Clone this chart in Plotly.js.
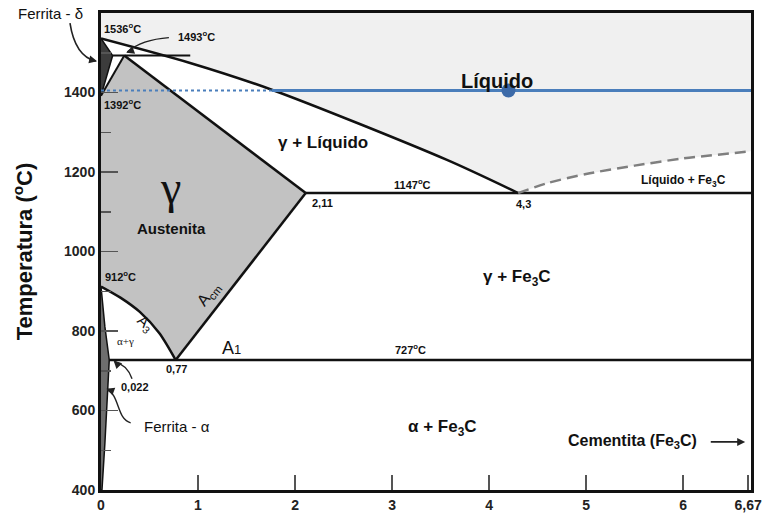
<!DOCTYPE html>
<html>
<head>
<meta charset="utf-8">
<script src="https://cdn.plot.ly/plotly-3.0.1.min.js"></script>
<style>html,body{margin:0;padding:0;background:#fff}#chart{width:771px;height:517px}</style>
</head>
<body>
<div id="chart"></div>
<script>
// ---- data (x = % C, y = °C) ----
const liquidusX = [0, 0.91, 1.76, 3.56, 4.3];
const liquidusY = [1536, 1475, 1407, 1231, 1147];
const fe3cLiqX = [4.3, 4.6, 5.0, 5.5, 6.0, 6.7];
const fe3cLiqY = [1147, 1172, 1195, 1216, 1234, 1252];
const a3X = [0, 0.2, 0.4, 0.6, 0.77];
const a3Y = [912, 884, 848, 795, 727];
const deltaX = [0, 0.12, 0];
const deltaY = [1536, 1493, 1392];
const alphaX = [0, 0.04, 0.085, 0.07, 0.04, 0.01, 0];
const alphaY = [912, 811, 727, 643, 517, 400, 400];
const gammaTopX = [0, 0.24, 2.11, 0.77];
const gammaTopY = [1392, 1493, 1147, 727];
const peritecticX = [0.12, 0.92];
const peritecticY = [1493, 1493];
const solidusX = [0.24, 2.11];
const solidusY = [1493, 1147];
const acmX = [2.11, 0.77];
const acmY = [1147, 727];
const eutecticX = [2.11, 6.7];
const eutecticY = [1147, 1147];
const eutectoidX = [0.085, 6.7];
const eutectoidY = [727, 727];
const gammaLeftX = [0, 0.24];
const gammaLeftY = [1392, 1493];
const blueDotX = [0, 1.76];
const blueDotY = [1405, 1405];
const blueSolidX = [1.76, 6.7];
const blueSolidY = [1405, 1405];
const pointX = [4.2];
const pointY = [1405];
const xTickVals = [0, 1, 2, 3, 4, 5, 6, 6.67];
const xTickText = ['0', '1', '2', '3', '4', '5', '6', '6,67'];
const yTickVals = [400, 600, 800, 1000, 1200, 1400];
const yTickText = ['400', '600', '800', '1000', '1200', '1400'];
const xMax = 6.7, yMin = 400, yMax = 1600;

const BLACK = '#111';
const traces = [];
// liquid region fill
traces.push({x: liquidusX.concat(fe3cLiqX.slice(1), [xMax, 0]),
  y: liquidusY.concat(fe3cLiqY.slice(1), [yMax, yMax]),
  mode: 'lines', fill: 'toself', fillcolor: '#f0f0f0', line: {width: 0}, hoverinfo: 'skip'});
// austenite fill
const rev3X = a3X.slice().reverse(), rev3Y = a3Y.slice().reverse();
traces.push({x: gammaTopX.concat(rev3X.slice(1)), y: gammaTopY.concat(rev3Y.slice(1)),
  mode: 'lines', fill: 'toself', fillcolor: '#c2c2c2', line: {width: 0}, hoverinfo: 'skip'});
// delta ferrite
traces.push({x: deltaX, y: deltaY, mode: 'lines', fill: 'toself', fillcolor: '#3c3c3c',
  line: {color: BLACK, width: 1.5}, hoverinfo: 'skip'});
// alpha ferrite
traces.push({x: alphaX, y: alphaY, mode: 'lines', fill: 'toself', fillcolor: '#6e6e6e',
  line: {color: BLACK, width: 1.5}, hoverinfo: 'skip'});
// boundary lines
function ln(x, y, w, extra) {
  traces.push(Object.assign({x: x, y: y, mode: 'lines', line: {color: BLACK, width: w}, hoverinfo: 'skip'}, extra || {}));
}
ln(liquidusX, liquidusY, 2.5, {line: {color: BLACK, width: 2.5, shape: 'spline', smoothing: 0.8}});
ln(a3X, a3Y, 2.5, {line: {color: BLACK, width: 2.5, shape: 'spline', smoothing: 0.8}});
ln(peritecticX, peritecticY, 2);
ln(solidusX, solidusY, 2.5);
ln(acmX, acmY, 2.5);
ln(eutecticX, eutecticY, 2.5);
ln(eutectoidX, eutectoidY, 2.5);
ln(gammaLeftX, gammaLeftY, 2);
traces.push({x: fe3cLiqX, y: fe3cLiqY, mode: 'lines',
  line: {color: '#7f7f7f', width: 2.5, dash: '11px,6px', shape: 'spline', smoothing: 0.8}, hoverinfo: 'skip'});
// blue reference line and point
traces.push({x: blueDotX, y: blueDotY, mode: 'lines', line: {color: '#4a7ebb', width: 1.8, dash: 'dot'}, hoverinfo: 'skip'});
traces.push({x: blueSolidX, y: blueSolidY, mode: 'lines', line: {color: '#4a7ebb', width: 3}, hoverinfo: 'skip'});
traces.push({x: pointX, y: pointY, mode: 'markers', marker: {color: '#3d6aa8', size: 14}, hoverinfo: 'skip'});

const F = 'Liberation Sans, Arial, sans-serif';
function lab(text, x, y, size, opts) {
  return Object.assign({text: text, x: x, y: y, xref: 'x', yref: 'y', showarrow: false,
    font: {family: F, size: size, color: '#111'}, xanchor: 'center', yanchor: 'middle'}, opts || {});
}
function head(x, y, ax, ay, ref) {
  return {text: '', x: x, y: y, xref: ref || 'x', yref: ref === 'paper' ? 'paper' : 'y',
    showarrow: true, arrowhead: 2, arrowsize: 1, arrowwidth: 1.6, arrowcolor: '#222', ax: ax, ay: ay};
}
const annotations = [
  lab('<b>Líquido</b>', 4.08, 1428, 20),
  lab('<b>γ + Líquido</b>', 2.29, 1274, 17),
  lab('γ', 0.72, 1162, 46, {font: {family: 'Liberation Serif, serif', size: 46, color: '#111'}}),
  lab('<b>Austenita</b>', 0.73, 1059, 15),
  lab('<b>1536<sup>o</sup>C</b>', 0.22, 1562, 11),
  lab('<b>1493<sup>o</sup>C</b>', 0.98, 1541, 11),
  lab('<b>1392<sup>o</sup>C</b>', 0.22, 1371, 11),
  lab('<b>912<sup>o</sup>C</b>', 0.20, 938, 11),
  lab('<b>1147<sup>o</sup>C</b>', 3.21, 1170, 11),
  lab('<b>2,11</b>', 2.28, 1123, 11),
  lab('<b>4,3</b>', 4.35, 1120, 11),
  lab('<b>Líquido + Fe<sub>3</sub>C</b>', 6.0, 1178, 12),
  lab('<b>727<sup>o</sup>C</b>', 3.19, 754, 11),
  lab('A<span style="font-size:13px">1</span>', 1.34, 756, 18),
  lab('<b>0,77</b>', 0.78, 704, 11),
  lab('<b>0,022</b>', 0.35, 658, 11),
  lab('Ferrita - α', 0.78, 561, 15),
  lab('<b>γ + Fe<sub>3</sub>C</b>', 4.29, 933, 17),
  lab('<b>α + Fe<sub>3</sub>C</b>', 3.52, 556, 17),
  lab('<b>Cementita (Fe<sub>3</sub>C)</b>', 5.48, 521, 16),
  lab('α+γ', 0.25, 775, 11, {font: {family: 'Liberation Serif, serif', size: 11, color: '#111'}}),
  lab('A<sub>cm</sub>', 1.11, 892, 16, {textangle: -52}),
  lab('A<sub>3</sub>', 0.45, 818, 15, {textangle: 42}),
  {text: 'Ferrita - δ', x: -0.0777, y: 1.0, xref: 'paper', yref: 'paper', showarrow: false,
    font: {family: F, size: 15, color: '#111'}, xanchor: 'center', yanchor: 'middle'},
  // arrowheads
  head(-0.006, 0.899, -9, -2, 'paper'),
  head(0.26, 1500, 8, -3),
  head(0.13, 726, 7, 7),
  head(0.055, 655, 8, 3),
  {text: '', x: 6.64, y: 521, xref: 'x', yref: 'y', ax: 6.27, ay: 521, axref: 'x', ayref: 'y',
    showarrow: true, arrowhead: 2, arrowsize: 1, arrowwidth: 1.6, arrowcolor: '#222'}
];
const shapes = [
  {type: 'path', xref: 'paper', yref: 'paper', path: 'M -0.0477 0.979 Q -0.040 0.91 -0.008 0.899',
    line: {color: '#222', width: 1.6}},
  {type: 'path', xref: 'x', yref: 'y', path: 'M 0.70 1538 Q 0.42 1533 0.27 1502',
    line: {color: '#222', width: 1.4}},
  {type: 'path', xref: 'x', yref: 'y', path: 'M 0.32 680 Q 0.27 715 0.14 723',
    line: {color: '#222', width: 1.4}},
  {type: 'path', xref: 'x', yref: 'y', path: 'M 0.306 569 C 0.165 576 0.19 640 0.065 652',
    line: {color: '#222', width: 1.4}}
];

const layout = {
  width: 771, height: 517,
  margin: {l: 101, r: 20, t: 13, b: 27, pad: 0},
  paper_bgcolor: '#fff', plot_bgcolor: '#fff',
  showlegend: false,
  xaxis: {range: [0, xMax], tickvals: xTickVals, ticktext: xTickText, ticks: 'inside', ticklen: 15,
    tickwidth: 1.5, tickcolor: '#555', showgrid: false, zeroline: false, showline: true, linecolor: BLACK,
    linewidth: 3, mirror: true, tickfont: {family: F, size: 14, color: '#222', weight: 'bold'},
    automargin: false, fixedrange: true},
  yaxis: {range: [yMin, yMax], tickvals: yTickVals, ticktext: yTickText, ticks: 'inside', ticklen: 17,
    tickwidth: 1.5, tickcolor: '#555', showgrid: false, zeroline: false, showline: true, linecolor: BLACK,
    linewidth: 3, mirror: true, tickfont: {family: F, size: 14, color: '#222', weight: 'bold'},
    minor: {dtick: 100, ticks: 'inside', ticklen: 10, tickwidth: 1.5, tickcolor: '#555'},
    title: {text: 'Temperatura (<sup>o</sup>C)', font: {family: F, size: 22, color: '#111', weight: 'bold'}, standoff: 26},
    automargin: false, fixedrange: true},
  annotations: annotations,
  shapes: shapes
};
Plotly.newPlot('chart', traces, layout, {displayModeBar: false, staticPlot: true});
</script>
</body>
</html>
